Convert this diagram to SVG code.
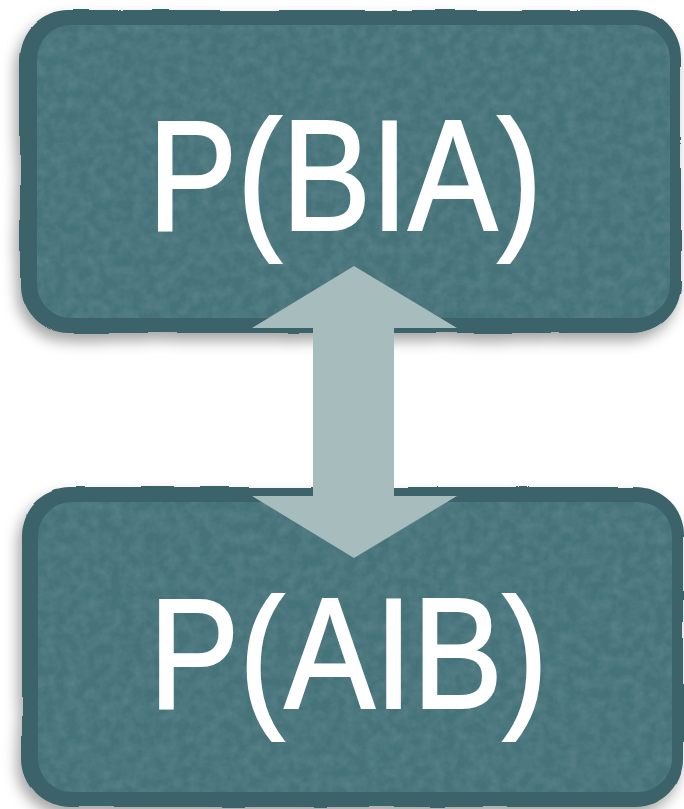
<svg xmlns="http://www.w3.org/2000/svg" width="684" height="809" viewBox="0 0 684 809">
  <defs>
    <filter id="shadow" x="-10%" y="-10%" width="120%" height="125%">
      <feDropShadow dx="-4" dy="8" stdDeviation="7" flood-color="#000" flood-opacity="0.35"/>
    </filter>
    <filter id="noise" x="0" y="0" width="100%" height="100%">
      <feTurbulence type="fractalNoise" baseFrequency="0.09" numOctaves="4" seed="7" result="n"/>
      <feColorMatrix in="n" type="matrix" values="0 0 0 0 0.45  0 0 0 0 0.56  0 0 0 0 0.58  0 0 0 1.4 -0.45" result="c"/>
      <feComposite in="c" in2="SourceGraphic" operator="in"/>
    </filter>
    <filter id="wobble" x="-5%" y="-5%" width="110%" height="110%">
      <feTurbulence type="fractalNoise" baseFrequency="0.015" numOctaves="2" seed="2" result="w"/>
      <feDisplacementMap in="SourceGraphic" in2="w" scale="4" xChannelSelector="R" yChannelSelector="G"/>
    </filter>
  </defs>
  <style>
    .outer { fill: #3e636a; }
    .inner { fill: #46737a; }
    .tex { fill: #000; opacity: 0.2; }
    .label { font-family: "Liberation Sans", Arial, Helvetica, sans-serif; font-size: 158px; fill: #ffffff; stroke: #ffffff; stroke-width: 2.2px; }
    .arrow { fill: #a7bcbd; }
  </style>

  <g id="node-top">
    <g filter="url(#shadow)">
      <rect class="outer" x="20" y="10" width="661" height="323" rx="48" ry="48" filter="url(#wobble)"/>
    </g>
    <rect class="inner" x="37" y="25" width="633" height="293" rx="34" ry="34"/>
    <rect class="tex" x="37" y="25" width="633" height="293" rx="34" ry="34" filter="url(#noise)"/>
    <text class="label" x="148" y="230" textLength="394" lengthAdjust="spacingAndGlyphs">P(BIA)</text>
  </g>

  <g id="node-bottom">
    <g filter="url(#shadow)">
      <rect class="outer" x="22" y="487" width="661" height="320" rx="48" ry="48" filter="url(#wobble)"/>
    </g>
    <rect class="inner" x="38" y="502" width="634" height="290" rx="34" ry="34"/>
    <rect class="tex" x="38" y="502" width="634" height="290" rx="34" ry="34" filter="url(#noise)"/>
    <text class="label" x="149" y="708" textLength="399" lengthAdjust="spacingAndGlyphs">P(AIB)</text>
  </g>

  <g id="connectors">
    <polygon class="arrow" points="354,266 457,328 394,328 394,496 457,496 354,558 252,496 313,496 313,328 252,328"/>
  </g>
</svg>
